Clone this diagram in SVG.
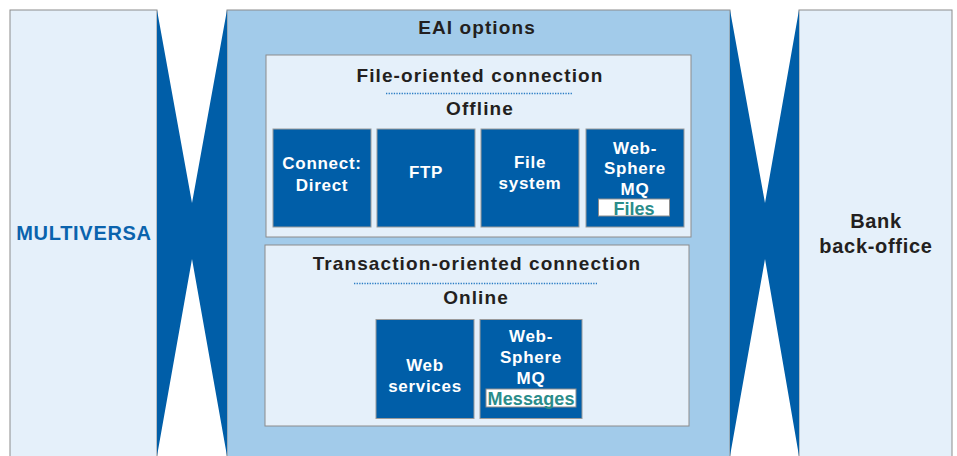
<svg xmlns="http://www.w3.org/2000/svg" width="957" height="456" viewBox="0 0 957 456">
<style>
  .side{fill:#e5f0fa;stroke:#8c8c8c;stroke-width:1}
  .eai{fill:#a2cbea;stroke:#8c8c8c;stroke-width:1}
  .panel{fill:#e5f0fa;stroke:#8c8c8c;stroke-width:1}
  .tile{fill:#005ea8;stroke:#9a9a9a;stroke-width:1}
  .tag{fill:#ffffff;stroke:#8c8c8c;stroke-width:1}
  .funnel{fill:#005ea8;stroke:none}
  .dots{stroke:#2a7cc4;stroke-width:1.3;stroke-dasharray:1.3 1.3;fill:none}
  text{font-family:"Liberation Sans",Arial,sans-serif;font-weight:bold;text-anchor:middle}
  .title{font-size:19px;letter-spacing:1.1px;fill:#231f20}
  .side-t{font-size:20px;letter-spacing:0.7px}
  .tile-t{font-size:17px;letter-spacing:0.7px;fill:#ffffff}
  .tag-t{font-size:18px;fill:#2a8c8a}
</style>

<g id="multiversa">
  <rect class="side" x="10" y="10" width="147" height="450"/>
  <text class="side-t" x="84" y="240" fill="#0a63ad">MULTIVERSA</text>
</g>

<g id="bank-back-office">
  <rect class="side" x="799" y="10" width="153" height="450"/>
  <text class="side-t" x="876" y="227.5" fill="#231f20">Bank</text>
  <text class="side-t" x="876" y="252.5" fill="#231f20">back-office</text>
</g>

<g id="eai-options">
  <rect class="eai" x="227" y="10" width="503" height="450"/>
  <text class="title" x="477" y="33.5">EAI options</text>
</g>

<g id="connectors">
  <polygon class="funnel" points="157,10 192,203 227,10 227,456 192,259 157,456"/>
  <polygon class="funnel" points="730,10 765,203 799,10 799,456 765,259 730,456"/>
</g>

<g id="file-oriented">
  <rect class="panel" x="266" y="55" width="425" height="182"/>
  <text class="title" x="480" y="81.5">File-oriented connection</text>
  <line class="dots" x1="386" y1="93.5" x2="572" y2="93.5"/>
  <text class="title" x="480" y="115">Offline</text>
</g>

<g id="connect-direct">
  <rect class="tile" x="273" y="129" width="98" height="98"/>
  <text class="tile-t" x="322" y="169">Connect:</text>
  <text class="tile-t" x="322" y="190.5">Direct</text>
</g>

<g id="ftp">
  <rect class="tile" x="377" y="129" width="98" height="98"/>
  <text class="tile-t" x="426" y="178">FTP</text>
</g>

<g id="file-system">
  <rect class="tile" x="481" y="129" width="98" height="98"/>
  <text class="tile-t" x="530" y="167.5">File</text>
  <text class="tile-t" x="530" y="188.5">system</text>
</g>

<g id="websphere-mq-files">
  <rect class="tile" x="586" y="129" width="98" height="98"/>
  <text class="tile-t" x="635" y="153.5">Web-</text>
  <text class="tile-t" x="635" y="174">Sphere</text>
  <text class="tile-t" x="635" y="194.5">MQ</text>
  <rect class="tag" x="598.5" y="199" width="71" height="17"/>
  <text class="tag-t" x="634" y="215">Files</text>
</g>

<g id="transaction-oriented">
  <rect class="panel" x="265" y="245" width="424" height="181"/>
  <text class="title" x="477" y="270">Transaction-oriented connection</text>
  <line class="dots" x1="354" y1="283.5" x2="597" y2="283.5"/>
  <text class="title" x="476" y="304">Online</text>
</g>

<g id="web-services">
  <rect class="tile" x="376" y="319.5" width="98" height="99"/>
  <text class="tile-t" x="425" y="370.5">Web</text>
  <text class="tile-t" x="425" y="391.5">services</text>
</g>

<g id="websphere-mq-messages">
  <rect class="tile" x="480" y="319.5" width="102" height="99"/>
  <text class="tile-t" x="531" y="341.5">Web-</text>
  <text class="tile-t" x="531" y="363">Sphere</text>
  <text class="tile-t" x="531" y="384">MQ</text>
  <rect class="tag" x="486" y="389" width="90" height="18"/>
  <text class="tag-t" x="531" y="405" textLength="87">Messages</text>
</g>
</svg>
